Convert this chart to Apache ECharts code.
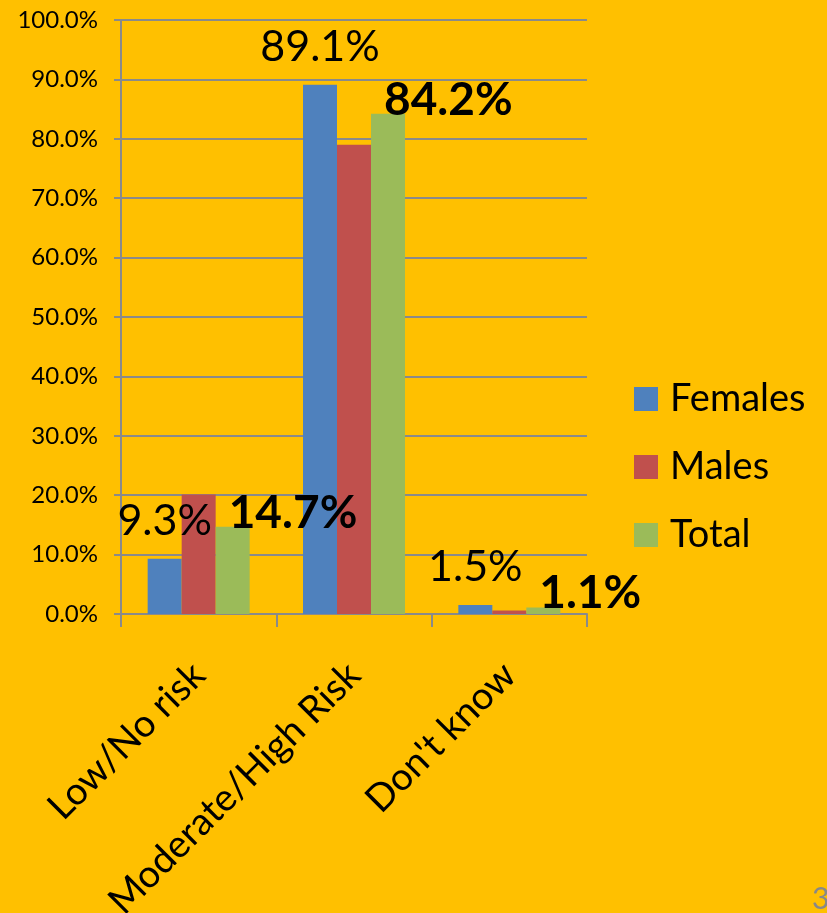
<!DOCTYPE html>
<html>
<head>
<meta charset="utf-8">
<script src="https://cdn.jsdelivr.net/npm/echarts@6/dist/echarts.min.js"></script>
<style>
  html, body { margin: 0; padding: 0; background: #FFC000; }
  #chart { width: 827px; height: 913px; }
</style>
</head>
<body>
<div id="chart"></div>
<script>
var categories = ['Low/No risk', 'Moderate/High Risk', "Don't know"]
var females = [9.3, 89.1, 1.5]
var males = [20.1, 79.0, 0.6]
var total = [14.7, 84.2, 1.1]

var font = 'Lato, "Open Sans", sans-serif'
var gridGrey = '#8a8a8a'

var chart = echarts.init(document.getElementById('chart'))

var option = {
  backgroundColor: '#FFC000',
  animation: false,
  textStyle: { fontFamily: font, color: '#000' },
  grid: { left: 121, top: 20, width: 466, height: 594, outerBoundsMode: 'none', containLabel: false },
  legend: {
    orient: 'vertical',
    left: 634,
    top: 380,
    padding: 0,
    itemWidth: 24,
    itemHeight: 24,
    itemGap: 30,
    icon: 'rect',
    data: ['Females', 'Males', 'Total'],
    textStyle: { fontFamily: font, fontSize: 38, lineHeight: 38, color: '#000', padding: [0, 0, 0, 7] }
  },
  xAxis: {
    type: 'category',
    data: categories,
    axisLine: { lineStyle: { color: gridGrey, width: 2 } },
    axisTick: { show: true, length: 13, lineStyle: { color: gridGrey, width: 2 } },
    axisLabel: {
      rotate: 45,
      interval: 0,
      margin: 55,
      fontFamily: font,
      fontSize: 38,
      color: '#000'
    }
  },
  yAxis: {
    type: 'value',
    min: 0,
    max: 100,
    interval: 10,
    axisLine: { show: true, lineStyle: { color: gridGrey, width: 2 } },
    axisTick: { show: true, length: 7, lineStyle: { color: gridGrey, width: 2 } },
    splitLine: { lineStyle: { color: gridGrey, width: 2 } },
    axisLabel: {
      margin: 23,
      fontFamily: font,
      fontSize: 24,
      color: '#000',
      formatter: function (v) { return v.toFixed(1) + '%' }
    }
  },
  series: [
    {
      name: 'Females',
      type: 'bar',
      data: females,
      barWidth: 34,
      barGap: '0%',
      itemStyle: { color: '#4F81BD' },
      z: 2,
      label: {
        show: true,
        position: 'top',
        distance: 16,
        fontFamily: font,
        fontSize: 43,
        color: '#000',
        formatter: function (p) { return p.value.toFixed(1) + '%' }
      }
    },
    {
      name: 'Males',
      type: 'bar',
      data: males,
      barWidth: 34,
      barGap: '0%',
      itemStyle: { color: '#C0504D' },
      z: 2
    },
    {
      name: 'Total',
      type: 'bar',
      data: total,
      barWidth: 34,
      barGap: '0%',
      itemStyle: { color: '#9BBB59' },
      z: 2,
      label: {
        show: true,
        position: 'top',
        distance: -9,
        align: 'left',
        offset: [-4, 0],
        fontFamily: font,
        fontSize: 46,
        fontWeight: 'bold',
        color: '#000',
        formatter: function (p) { return p.value.toFixed(1) + '%' }
      }
    }
  ],
  graphic: [
    {
      type: 'text',
      left: 812,
      top: 884,
      style: { text: '3', font: '30px ' + font, fill: '#888' }
    }
  ]
}

chart.setOption(option)
</script>
</body>
</html>
